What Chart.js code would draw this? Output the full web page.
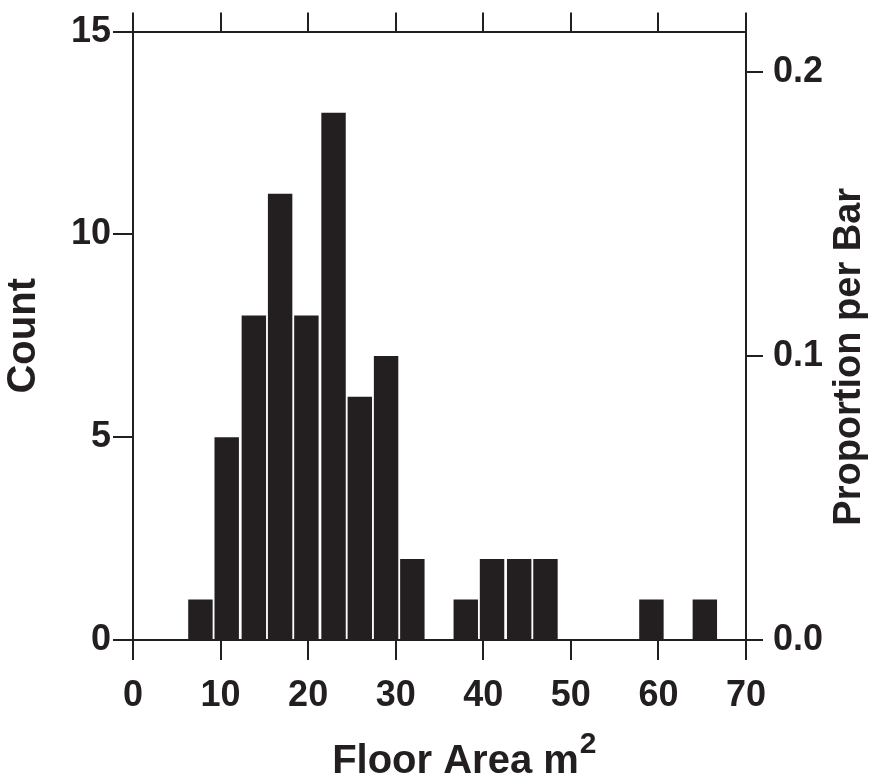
<!DOCTYPE html>
<html>
<head>
<meta charset="utf-8">
<title>Floor Area histogram</title>
<script src="https://cdn.jsdelivr.net/npm/chart.js@4.4.1/dist/chart.umd.min.js"></script>
<style>
  html, body { margin: 0; padding: 0; background: #fff; }
  #wrap { width: 877px; height: 780px; }
</style>
</head>
<body>
<div id="wrap"><canvas id="hist" width="877" height="780"></canvas></div>
<script>
'use strict';

// bin mid points (m2) and counts
var binMid = [7.7, 10.7, 13.8, 16.8, 19.8, 22.9, 25.9, 28.9, 31.9, 35.0,
              38.0, 41.0, 44.1, 47.1, 50.1, 53.2, 56.2, 59.2, 62.2, 65.3];
var counts = [1, 5, 8, 11, 8, 13, 6, 7, 2, 0,
              1, 2, 2, 2, 0, 0, 0, 1, 0, 1];
var xTicks = [0, 10, 20, 30, 40, 50, 60, 70];
var countTicks = [0, 5, 10, 15];
var propTicks = [0, 0.1, 0.2];

var ink = '#231f20';
var fontFam = "'Liberation Sans', Arial, Helvetica, sans-serif";
var total = counts.reduce(function (a, b) { return a + b; }, 0);

var points = binMid.map(function (m, i) { return { x: m, y: counts[i] }; });

function fixTicks(list) {
  return function (scale) {
    scale.ticks = list.map(function (v) { return { value: v }; });
  };
}

// titles that chart.js can't lay out the same way: right one reads
// bottom-to-top, bottom one has a raised 2
var extraTitles = {
  id: 'extraTitles',
  afterDraw: function (chart) {
    var ctx = chart.ctx;
    var area = chart.chartArea;
    ctx.save();
    ctx.fillStyle = ink;

    ctx.save();
    ctx.translate(area.right + 114, (area.top + area.bottom) / 2 + 21);
    ctx.rotate(-Math.PI / 2);
    ctx.font = 'bold 38px ' + fontFam;
    ctx.textAlign = 'center';
    ctx.textBaseline = 'alphabetic';
    ctx.fillText('Proportion per Bar', 0, 0);
    ctx.restore();

    var main = 'Floor Area m';
    ctx.font = 'bold 40px ' + fontFam;
    ctx.textBaseline = 'alphabetic';
    ctx.textAlign = 'left';
    var w = ctx.measureText(main).width;
    var x0 = (area.left + area.right) / 2 + 16 - w / 2;
    var base = area.bottom + 133;
    ctx.fillText(main, x0, base);
    ctx.font = 'bold 30px ' + fontFam;
    ctx.fillText('2', x0 + w + 1, base - 20);
    ctx.restore();
  }
};

var gridOpts = function (len) {
  return {
    drawOnChartArea: false,
    drawTicks: true,
    offset: false,
    tickLength: len,
    color: ink,
    lineWidth: 2
  };
};

var ctx = document.getElementById('hist');
var chart = new Chart(ctx, {
  type: 'bar',
  data: {
    datasets: [{
      label: 'Count',
      data: points,
      backgroundColor: ink,
      borderWidth: 0,
      categoryPercentage: 1.0,
      barPercentage: 0.93,
      xAxisID: 'x',
      yAxisID: 'y'
    }]
  },
  options: {
    responsive: false,
    animation: false,
    devicePixelRatio: 1,
    layout: { padding: 0 },
    plugins: {
      legend: { display: false },
      tooltip: { enabled: false }
    },
    scales: {
      x: {
        type: 'linear',
        position: 'bottom',
        min: 0,
        max: 70,
        offset: false,
        afterBuildTicks: fixTicks(xTicks),
        afterFit: function (s) { s.height = 140; },
        grid: gridOpts(20),
        border: { display: true, color: ink, width: 2 },
        ticks: {
          color: ink,
          padding: 14,
          maxRotation: 0,
          font: { family: fontFam, size: 36, weight: 'bold' }
        }
      },
      xTop: {
        type: 'linear',
        axis: 'x',
        position: 'top',
        min: 0,
        max: 70,
        offset: false,
        afterBuildTicks: fixTicks(xTicks),
        afterFit: function (s) { s.height = 27; },
        grid: gridOpts(19),
        border: { display: true, color: ink, width: 2 },
        ticks: { display: false }
      },
      y: {
        type: 'linear',
        position: 'left',
        min: 0,
        max: 15,
        afterBuildTicks: fixTicks(countTicks),
        afterFit: function (s) { s.width = 133; },
        grid: gridOpts(20),
        border: { display: true, color: ink, width: 2 },
        ticks: {
          color: ink,
          padding: 2,
          font: { family: fontFam, size: 36, weight: 'bold' }
        },
        title: {
          display: true,
          text: 'Count',
          color: ink,
          padding: 0,
          font: { family: fontFam, size: 40, weight: 'bold' }
        }
      },
      y2: {
        type: 'linear',
        position: 'right',
        min: 0,
        max: 15 / total,
        afterBuildTicks: fixTicks(propTicks),
        afterFit: function (s) { s.width = 131; },
        grid: gridOpts(17),
        border: { display: true, color: ink, width: 2 },
        ticks: {
          color: ink,
          padding: 10,
          callback: function (v) { return Number(v).toFixed(1); },
          font: { family: fontFam, size: 36, weight: 'bold' }
        }
      }
    }
  },
  plugins: [extraTitles]
});
</script>
</body>
</html>
